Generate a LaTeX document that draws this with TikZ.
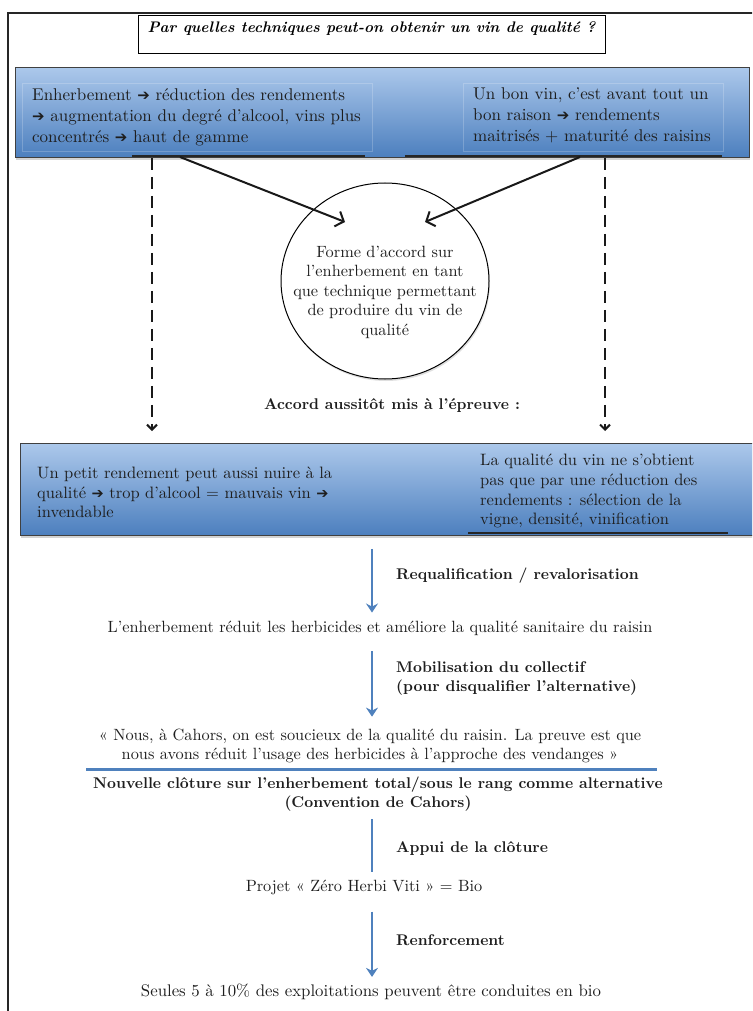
\documentclass[tikz,border=0pt]{standalone}
\usepackage{fontspec}
\setmainfont{lmroman10-regular.otf}[BoldFont=lmroman10-bold.otf, ItalicFont=lmroman10-italic.otf,
  BoldItalicFont=lmroman10-bolditalic.otf]
\usetikzlibrary{arrows.meta, shapes.geometric, shadows, positioning}

\newfontfamily\flechefont{DejaVu Sans}
\newcommand{\fl}{\scalebox{0.88}{\flechefont ➔}}

\definecolor{bleuhaut}{RGB}{172,200,235}
\definecolor{bleubas}{RGB}{76,127,190}
\definecolor{bleutrait}{RGB}{79,129,189}
\definecolor{encre}{RGB}{30,30,30}

\begin{document}
\begin{tikzpicture}[x=1pt, y=-1pt,
    texte/.style={font=\fontsize{16.3}{19.5}\selectfont, text=encre, inner sep=0pt, align=center},
    texte haut/.style={font=\fontsize{17}{21}\selectfont, text=encre, inner sep=0pt, align=left, anchor=north west},
    gras/.style={font=\fontsize{15.5}{19}\selectfont\bfseries, text=encre, inner sep=0pt},
    titre/.style={draw=black, line width=1pt, fill=white, font=\fontsize{15.3}{18}\selectfont\bfseries\itshape,
      minimum width=467pt, inner sep=0pt, text height=17pt, text depth=21pt, anchor=north},
    bande/.style={draw=black!75, line width=0.8pt, top color=bleuhaut, bottom color=bleubas,
      drop shadow={shadow xshift=1pt, shadow yshift=-3pt, opacity=0.35}, anchor=north west},
    cadretxt/.style={draw=white, draw opacity=0.2, line width=0.6pt},
    ombre/.style={draw=black!85, line width=2.5pt},
    rond/.style={ellipse, draw=black, line width=1pt, fill=white, minimum width=208pt, minimum height=196pt,
      drop shadow={shadow xshift=1pt, shadow yshift=-2pt, opacity=0.25}},
    fleche/.style={draw=black!90, line width=2pt, -{Straight Barb[length=7pt, width=16pt]}},
    tirets/.style={draw=black!90, line width=2pt, dash pattern=on 12pt off 7pt, -{Straight Barb[length=5pt, width=10pt]}},
    bleue/.style={draw=bleutrait, line width=2pt, -{Stealth[length=9pt, width=12pt, inset=3pt]}},
    regle/.style={draw=bleutrait, line width=3pt}]

  \clip (0,0) rectangle (752,1011);
  % cadre general
  \draw[black!85, line width=1.5pt] (8,13) rectangle (800,1040);

  \node[titre] (question) at (371.5,15) {Par quelles techniques peut-on obtenir un vin de qualité ?};

  % premiere bande
  \node[bande, minimum width=734pt, minimum height=90pt] (bande1) at (15,67) {};
  \draw[cadretxt] (22,83) rectangle (372,151);
  \draw[cadretxt] (463,83) rectangle (723,151);
  \draw[ombre] (132,156) -- (365,156);
  \draw[ombre] (405,156) -- (722,156);
  \node[texte haut] (enherb) at (32,88) {Enherbement \fl{} réduction des rendements\\
    \fl{} augmentation du degré d’alcool, vins plus\\
    concentrés \fl{} haut de gamme};
  \node[texte haut] (bonvin) at (473,88) {Un bon vin, c’est avant tout un\\
    bon raison \fl{} rendements\\
    maitrisés + maturité des raisins};

  % forme d'accord
  \node[rond] (accord) at (385,281) {};
  \node[texte] (accordtxt) at (385,292) {Forme d’accord sur\\ l’enherbement en tant\\
    que technique permettant\\ de produire du vin de\\ qualité};

  \coordinate (sg) at (180,157);
  \coordinate (sd) at (580,157);
  \coordinate (pg) at (345,222);
  \coordinate (pd) at (425,222);
  \draw[fleche] (sg) -- (pg);
  \draw[fleche] (sd) -- (pd);

  \coordinate (dg) at (152,431);
  \coordinate (dd) at (605,431);
  \draw[tirets] (dg |- bande1.south) -- (dg);
  \draw[tirets] (dd |- bande1.south) -- (dd);

  \node[gras] (epreuve) at (392,405) {Accord aussitôt mis à l’épreuve :};

  % deuxieme bande
  \node[bande, minimum width=760pt, minimum height=92pt] (bande2) at (20,443) {};
  \draw[ombre] (468,533) -- (728,533);
  \node[texte haut, font=\fontsize{16.5}{19.5}\selectfont] (petit) at (37,467) {Un petit rendement peut aussi nuire à la\\
    qualité \fl{} trop d’alcool = mauvais vin \fl{}\\
    invendable};
  \node[texte haut, font=\fontsize{16.5}{19.7}\selectfont] (qualite) at (480,454) {La qualité du vin ne s’obtient\\
    pas que par une réduction des\\
    rendements : sélection de la\\
    vigne, densité, vinification};

  % suite verticale
  \coordinate (axe) at (372,0);
  \node[texte] (herbi) at (380,628) {L’enherbement réduit les herbicides et améliore la qualité sanitaire du raisin};
  \node[gras, anchor=west] (requal) at (396,576) {Requalification / revalorisation};
  \draw[bleue, shorten <=13pt, shorten >=8pt] (bande2.south -| axe) -- (herbi.north -| axe);

  \node[texte] (citation) at (370,746) {«~Nous, à Cahors, on est soucieux de la qualité du raisin. La preuve est que\\
    nous avons réduit l’usage des herbicides à l’approche des vendanges~»};
  \node[gras, anchor=west, align=left] (mobil) at (396,678) {Mobilisation du collectif\\ (pour disqualifier l’alternative)};
  \draw[bleue, shorten <=16pt, shorten >=12pt] (herbi.south -| axe) -- (citation.north -| axe);

  \draw[regle] (86,769) -- (657,769);

  \node[gras, align=center] (cloture) at (378,794) {Nouvelle clôture sur l’enherbement total/sous le rang comme alternative\\
    (Convention de Cahors)};
  \node[texte] (projet) at (364,887) {Projet «~Zéro Herbi Viti~» = Bio};
  \node[gras, anchor=west] (appui) at (396,848) {Appui de la clôture};
  \draw[bleue, -, shorten <=8pt, shorten >=7pt] (cloture.south -| axe) -- (projet.north -| axe);

  \node[texte, font=\fontsize{16.8}{19.5}\selectfont] (seules) at (371,992) {Seules 5 à 10\% des exploitations peuvent être conduites en bio};
  \node[gras, anchor=west] (renfort) at (396,940) {Renforcement};
  \draw[bleue, shorten <=17pt, shorten >=7pt] (projet.south -| axe) -- (seules.north -| axe);
\end{tikzpicture}
\end{document}
